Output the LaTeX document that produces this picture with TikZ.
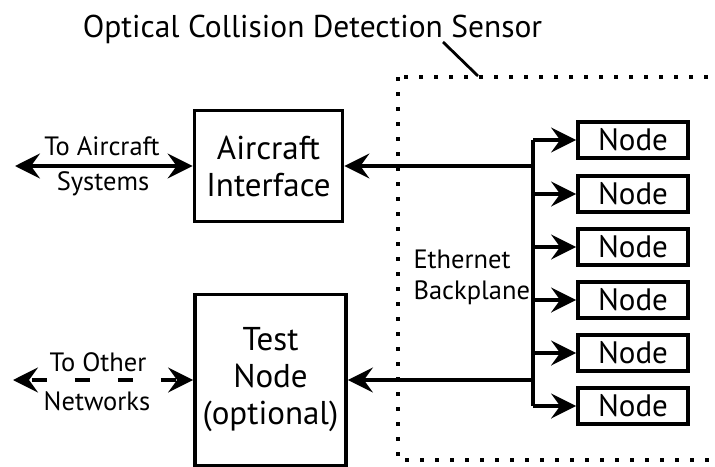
\documentclass[tikz,border=0pt]{standalone}
\usepackage{fontspec}
\setmainfont{PT Sans}
\usetikzlibrary{arrows.meta,calc}
\begin{document}
\begin{tikzpicture}[x=1pt,y=-1pt,
  box/.style={draw,line width=3.8pt,align=center,inner sep=0pt},
  bigtext/.style={font=\fontsize{33}{37}\selectfont},
  nodetext/.style={font=\fontsize{31}{34}\selectfont},
  labeltext/.style={font=\fontsize{26.5}{37}\selectfont},
  nodebox/.style={box,nodetext,minimum width=110pt,minimum height=36pt},
  arr/.style={line width=3.2pt,-{Stealth[length=25pt,width=25pt,inset=9pt]}},
  darr/.style={line width=3.2pt,{Stealth[length=25pt,width=25pt,inset=9pt]}-{Stealth[length=25pt,width=25pt,inset=9pt]}},
  dotbox/.style={line width=3.8pt,dash pattern=on 3.8pt off 11.2pt}]
\useasboundingbox (0,0) rectangle (715,466);
\clip (0,0) rectangle (715,466);

% title and its leader line to the sensor enclosure
\node[font=\fontsize{31.5}{36}\selectfont,anchor=base] (title) at (312.5,37) {Optical Collision Detection Sensor};
\coordinate (leadA) at (443,42);
\coordinate (leadB) at (478,76);
\draw[line width=2.8pt] (leadA) -- (leadB);

% sensor enclosure (dotted)
\draw[dotbox] (398,77) rectangle (740,460);

% interface boxes
\node[box,bigtext,minimum width=148pt,minimum height=111pt] (ai) at (268.5,166) {Aircraft\\Interface};
\node[box,bigtext,minimum width=151pt,minimum height=171pt] (test) at (270.5,380) {Test\\Node\\(optional)};

% processing nodes
\foreach \i/\y in {1/140,2/194,3/247,4/300,5/353,6/406}
  \node[nodebox] (n\i) at (633,\y) {Node};

% Ethernet backplane bus
\coordinate (bus) at (533,0);
\draw[line width=3.2pt] (n1.west -| bus) -- (n6.west -| bus);
\foreach \i in {1,...,6}
  \draw[arr] (n\i.west -| bus) -- (n\i.west);
\draw[arr] (ai.east -| bus) -- (ai.east);
\draw[arr] (test.east -| bus) -- (test.east);
\node[font=\fontsize{26.5}{31}\selectfont,align=left,anchor=west] (eth) at (410,277) {Ethernet\\Backplane};

% external links
\coordinate (acsys) at (15,166);
\draw[darr] (acsys) -- (ai.west);
\node[labeltext] (l1) at (102,146) {To Aircraft};
\node[labeltext] (l2) at (103,184) {Systems};

\coordinate (onet) at (13,380);
\draw[darr,dash pattern=on 15pt off 28pt,dash phase=-4pt] (onet) -- (test.west);
\node[labeltext] (l3) at (98,362) {To Other};
\node[labeltext] (l4) at (97,401) {Networks};
\end{tikzpicture}
\end{document}
